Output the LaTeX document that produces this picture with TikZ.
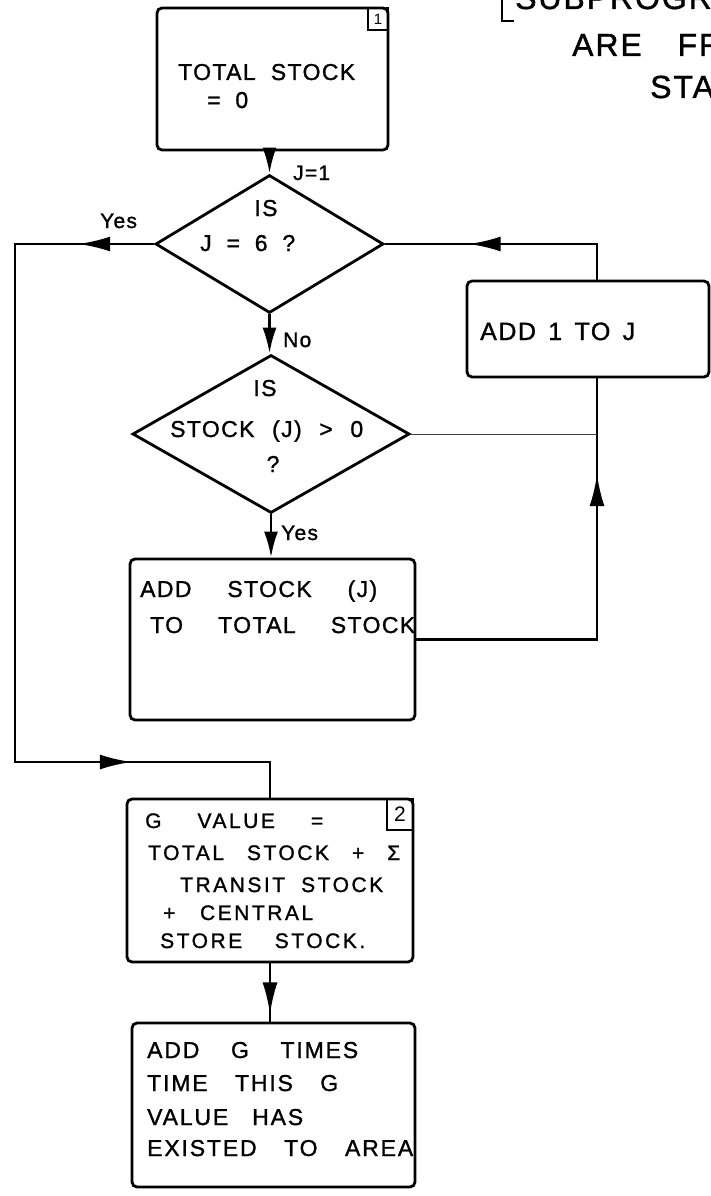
\documentclass[tikz,border=0pt]{standalone}
\usepackage{fontspec}
\setmainfont{Liberation Sans}
\newfontfamily\fa[LetterSpace=6, FakeBold=1.2]{Liberation Sans}
\newfontfamily\fb[LetterSpace=8, FakeBold=1.2]{Liberation Sans}
\newfontfamily\fc[LetterSpace=12, FakeBold=1.2]{Liberation Sans}
\usetikzlibrary{shapes.geometric,arrows.meta,decorations.markings}
\newcommand{\wl}[2]{\makebox[#1pt][s]{#2}}
\tikzset{
  box/.style={draw, rounded corners=5pt, inner sep=0pt, line width=2.8pt},
  dia/.style={draw, diamond, inner sep=0pt, line width=2.8pt},
  tag/.style={draw, inner sep=0pt, line width=2pt},
  tx/.style={anchor=base west, inner sep=0pt, font=\fa\fontsize{23}{28}\selectfont},
  txc/.style={anchor=base, inner sep=0pt, font=\fa\fontsize{23}{28}\selectfont},
  gx/.style={anchor=base west, inner sep=0pt, font=\fc\fontsize{21}{26}\selectfont},
  lx/.style={anchor=base west, inner sep=0pt, font=\fb\fontsize{23}{28}\selectfont},
  lab/.style={anchor=base west, inner sep=0pt, font=\fa\fontsize{21}{24}\selectfont},
  big/.style={anchor=base west, inner sep=0pt, font=\fa\fontsize{32}{36}\selectfont},
  conn/.style={line width=2.8pt},
  tipd/.style={-{Latex[length=26pt,width=14pt]}},
  arrat/.style={postaction={decorate, decoration={markings,
      mark=at position #1 with {\arrow{Latex[length=32pt,width=15pt]}}}}},
}
\begin{document}
\begin{tikzpicture}[x=1pt, y=-1pt]
\path[use as bounding box] (0,0) rectangle (711,1196);
\clip (0,0) rectangle (711,1196);

% boxes and decisions
\node[box, minimum width=231pt, minimum height=142pt] (b1) at (272.5,79) {};
\node[tag, minimum width=20pt, minimum height=22pt, font=\fontsize{15}{15}\selectfont] (s1) at (378,19) {1};
\node[dia, minimum width=228pt, minimum height=138pt] (d1) at (269.5,244) {};
\node[dia, minimum width=277pt, minimum height=158pt] (d2) at (271,434) {};
\node[box, minimum width=285pt, minimum height=161pt] (b3) at (272.5,639.5) {};
\node[box, minimum width=242pt, minimum height=96pt] (b4) at (588,329) {};
\node[box, minimum width=286pt, minimum height=163pt] (gb) at (270,880.5) {};
\node[tag, minimum width=26pt, minimum height=31pt, font=\fontsize{21}{21}\selectfont] (s2) at (400,814.5) {2};
\node[box, minimum width=283pt, minimum height=164pt] (lb) at (273.5,1105) {};

\coordinate (L) at (15,762);
\coordinate (R) at (597,640);

% connectors
\draw[conn, tipd] (d1.north |- b1.south) -- (d1.north);
\draw[conn, tipd] (d1.south) -- (d1.south |- d2.north);
\draw[conn, tipd] (d2.south) -- (d2.south |- b3.north);
\draw[conn, arrat=76pt, arrat=774pt] (d1.west) -- (d1.west -| L) -- (L) -- (L -| gb.north) -- (gb.north);
\draw[conn, arrat=346pt] (b3.east) -- (b3.east -| R) -- (R |- b4.south);
\draw[conn, arrat=164pt] (R |- b4.north) -- (R |- d1.east) -- (d1.east);
\draw[line width=1pt, black!75] (d2.east) -- (d2.east -| R);
\draw[conn, arrat=51pt] (gb.south) -- (gb.south |- lb.north);

% texts
\node[tx] (t1a) at (178,80) {\wl{177}{TOTAL STOCK}};
\node[tx] (t1b) at (207,108) {\wl{41}{= 0}};
\node[lab] (j1) at (293,180) {J=1};
\node[lab] (y1) at (100,228) {Yes};
\node[txc] (d1a) at (266,216) {IS};
\node[tx] (d1b) at (200,251) {\wl{95}{J = 6 ?}};
\node[lab] (n1) at (283,347) {No};
\node[txc] (d2a) at (265,396) {IS};
\node[tx] (d2b) at (170,437) {\wl{193}{STOCK (J) > 0}};
\node[txc] (d2c) at (273,472) {?};
\node[lab] (y2) at (281,540) {Yes};
\node[tx] (b3a) at (140,597) {\wl{237}{ADD STOCK (J)}};
\node[tx] (b3b) at (150,633) {\wl{265}{TO TOTAL STOCK}};
\node[tx, font=\fa\fontsize{25}{30}\selectfont] (b4a) at (480,340) {\wl{155}{ADD 1 TO J}};
\node[gx] (g1) at (145,828) {\wl{178}{G VALUE =}};
\node[gx] (g2) at (148,860) {\wl{252}{TOTAL STOCK + Σ}};
\node[gx] (g3) at (180,892) {\wl{203}{TRANSIT STOCK}};
\node[gx] (g4) at (163,920) {\wl{150}{+ CENTRAL}};
\node[gx] (g5) at (160,948) {\wl{205}{STORE STOCK.}};
\node[lx] (l1) at (147,1058) {\wl{211}{ADD G TIMES}};
\node[lx] (l2) at (147,1091) {\wl{191}{TIME THIS G}};
\node[lx] (l3) at (147,1125) {\wl{156}{VALUE HAS}};
\node[lx] (l4) at (147,1156) {\wl{266}{EXISTED TO AREA}};

% top right heading (cut off by the page edge, as in the reference)
\coordinate (k0) at (502,0);
\coordinate (k1) at (502,21);
\coordinate (k2) at (514,21);
\draw[conn] (k0) -- (k1) -- (k2);
\node[big] (h1) at (515,9) {SUBPROGRA};
\node[big] (h2) at (572,56) {\wl{150}{ARE FR}};
\node[big] (h3) at (650,98) {STAT};
\end{tikzpicture}
\end{document}
